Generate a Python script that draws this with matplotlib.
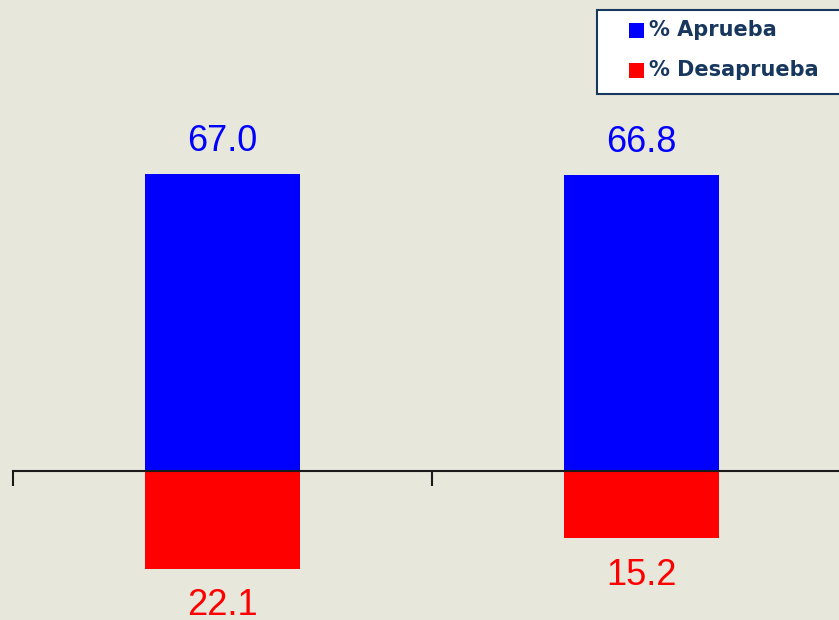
import matplotlib.pyplot as plt
from matplotlib.patches import Rectangle

# data
categories = ["A", "B"]
aprueba = [67.0, 66.8]
desaprueba = [22.1, 15.2]
series_labels = ["% Aprueba", "% Desaprueba"]
colors = ["#0000FF", "#FF0000"]

bg = "#E8E7DB"
navy = "#17375E"

W, H = 839, 620
fig = plt.figure(figsize=(W / 100, H / 100), dpi=100, facecolor=bg)
ax = fig.add_axes([0, 0, 1, 1], facecolor=bg)

x = list(range(len(categories)))
ax.bar(x, aprueba, width=0.37, color=colors[0], zorder=2)
ax.bar(x, [-v for v in desaprueba], width=0.37, color=colors[1], zorder=2)

for xi, v in zip(x, aprueba):
    ax.annotate(f"{v:.1f}", (xi, v), xytext=(0, 11), textcoords="offset points",
                ha="center", va="bottom", fontsize=26, color=colors[0],
                family="Liberation Sans")
for xi, v in zip(x, desaprueba):
    ax.annotate(f"{v:.1f}", (xi, -v), xytext=(0, -14), textcoords="offset points",
                ha="center", va="top", fontsize=26, color=colors[1],
                family="Liberation Sans")

ax.set_xlim(-0.531, 1.4714)
ax.set_ylim(-33.6, 106.3)

for s in ["top", "right", "left"]:
    ax.spines[s].set_visible(False)
ax.spines["bottom"].set_position(("data", 0))
ax.spines["bottom"].set_bounds(-0.5, 1.6)
ax.spines["bottom"].set_color("#1a1a1a")
ax.spines["bottom"].set_linewidth(1.5)
ax.spines["bottom"].set_zorder(3)
ax.set_yticks([])
ax.set_xticks([-0.5, 0.5])
ax.set_xticklabels([])
ax.tick_params(axis="x", direction="out", length=11, width=1.5, color="#1a1a1a")

# legend box
fig.patches.append(Rectangle((597 / W, 1 - 94 / H), 260 / W, 84 / H,
                             transform=fig.transFigure, facecolor="white",
                             edgecolor=navy, linewidth=1.5, zorder=5))
for i, (lab, c) in enumerate(zip(series_labels, colors)):
    yc = 30 + i * 40
    fig.patches.append(Rectangle((629 / W, 1 - (yc + 8) / H), 15 / W, 15 / H,
                                 transform=fig.transFigure, facecolor=c,
                                 edgecolor="none", zorder=6))
    fig.text(649 / W, 1 - yc / H, lab, fontsize=15, fontweight="bold",
             color=navy, va="center", ha="left", zorder=7)

fig.savefig("out.png", dpi=100, facecolor=bg)
